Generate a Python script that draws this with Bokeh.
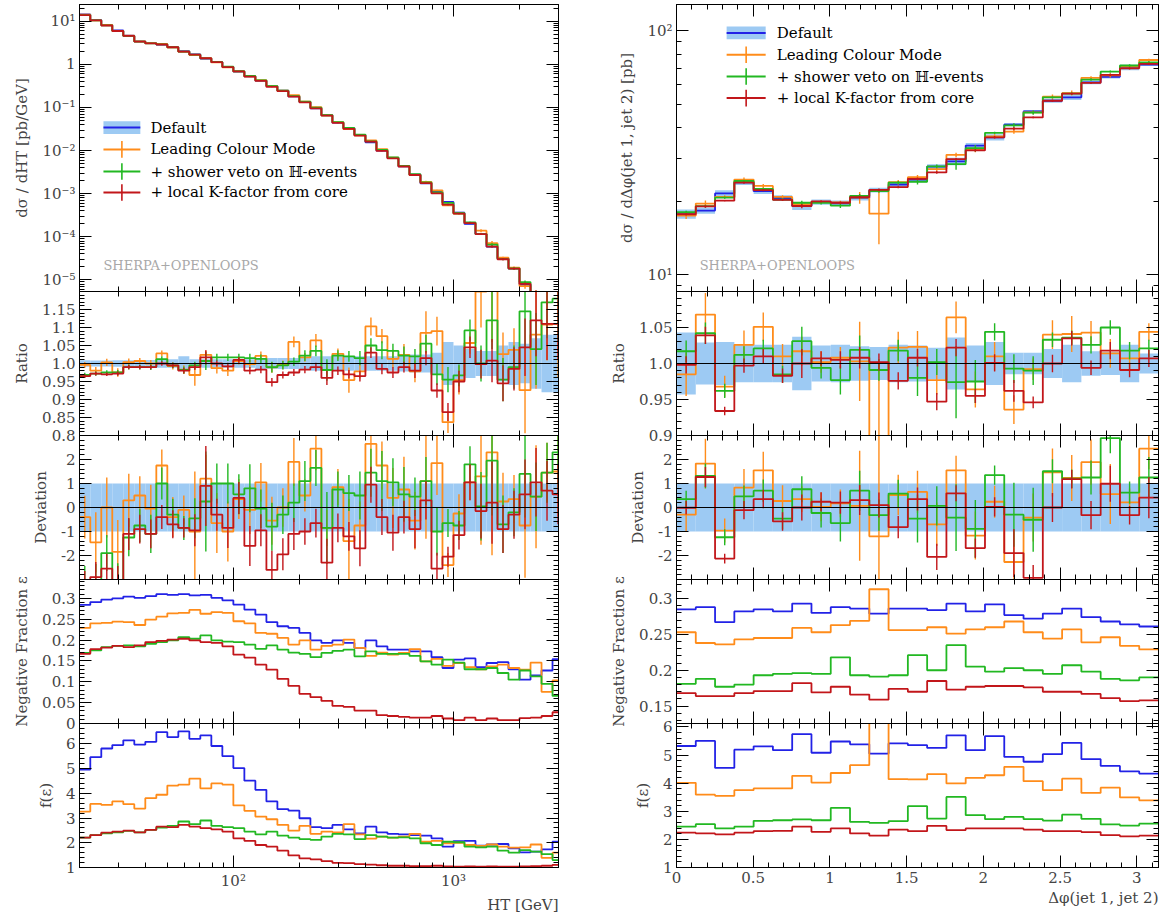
import numpy as np
from bokeh.plotting import figure
from bokeh.models import (Range1d, LinearScale, FixedTicker, CustomJSTickFormatter,
                          LinearAxis, LogAxis, Title, Span, Grid)
from bokeh.layouts import column, row
from bokeh.embed import file_html
from bokeh.resources import INLINE
from bokeh.core.properties import value

# ------------------------------------------------------------------ data
SERIES_LABELS = ["Default", "Leading Colour Mode", "+ shower veto on \u210d-events",
                 "+ local K-factor from core"]
GENERATOR_LABEL = "SHERPA+OPENLOOPS"

# ---- HT observable (44 log-spaced bins)
HT_EDGES = [19.95, 22.39, 25.12, 28.18, 31.62, 35.48, 39.81, 44.67, 50.12, 56.23,
            63.10, 70.79, 79.43, 89.13, 100.0, 112.2, 125.9, 141.3, 158.5, 177.8,
            199.5, 223.9, 251.2, 281.8, 316.2, 354.8, 398.1, 446.7, 501.2, 562.3,
            631.0, 707.9, 794.3, 891.3, 1000.0, 1122.0, 1259.0, 1413.0, 1585.0, 1778.0,
            1995.0, 2239.0, 2512.0, 2818.0, 3162.0]
HT_DEFAULT = [14.3, 10.7, 8.2, 6.1, 4.6, 3.4, 3.09, 2.88, 2.50, 2.01,
              1.69, 1.36, 1.12, 0.871, 0.679, 0.529, 0.420, 0.316, 0.246, 0.182,
              0.134, 0.0958, 0.0671, 0.0446, 0.0329, 0.0231, 0.0156, 0.00998, 0.00675, 0.00432,
              0.00277, 0.00174, 0.00110, 0.000643, 0.000364, 0.000199, 0.000116, 5.9e-5, 3.2e-5, 1.86e-5,
              7.8e-6, 4.7e-6, 2.6e-6, 1.4e-6]
HT_BAND = [0.009, 0.008, 0.008, 0.009, 0.009, 0.010, 0.010, 0.012, 0.012, 0.020,
           0.012, 0.012, 0.012, 0.012, 0.012, 0.012, 0.015, 0.015, 0.015, 0.015,
           0.018, 0.020, 0.020, 0.020, 0.020, 0.020, 0.020, 0.020, 0.020, 0.022,
           0.025, 0.025, 0.030, 0.060, 0.050, 0.040, 0.035, 0.035, 0.050, 0.060,
           0.055, 0.070, 0.080, 0.080]
HT_RATIO_LC = [0.996, 0.980, 1.003, 0.975, 1.004, 1.007, 1.000, 1.028, 0.993, 0.983,
               0.968, 1.024, 0.987, 0.980, 1.007, 0.998, 1.021, 0.989, 0.996, 1.060,
               1.017, 1.064, 0.982, 1.027, 0.954, 0.978, 1.103, 1.076, 1.013, 1.024,
               0.978, 1.085, 1.090, 0.837, 0.954, 1.057, 1.200, 1.210, 1.026, 1.038,
               0.926, 1.080, 1.108, 1.110]
HT_RATIO_SV = [0.968, 0.972, 0.975, 0.975, 0.990, 0.990, 0.990, 1.012, 0.995, 0.982,
               0.995, 1.007, 1.017, 1.017, 1.017, 1.015, 1.013, 0.990, 0.995, 1.005,
               1.022, 1.035, 0.982, 1.022, 1.020, 1.015, 1.050, 1.037, 1.035, 1.022,
               1.020, 1.055, 0.970, 0.955, 0.967, 1.092, 1.000, 1.120, 0.955, 0.990,
               1.145, 1.040, 1.170, 1.180]
HT_RATIO_KF = [0.965, 0.972, 0.970, 0.972, 0.990, 0.990, 0.990, 1.000, 0.995, 0.980,
               0.990, 1.017, 1.000, 0.992, 1.010, 0.980, 0.983, 0.948, 0.968, 0.975,
               0.983, 0.990, 0.960, 0.980, 0.970, 0.965, 1.030, 0.985, 0.975, 0.990,
               0.980, 1.015, 0.925, 0.865, 0.950, 1.045, 0.998, 1.008, 0.945, 0.985,
               1.045, 1.120, 1.110, 1.110]
HT_ERR_LC = [0.008, 0.010, 0.010, 0.012, 0.010, 0.008, 0.010, 0.008, 0.010, 0.012,
             0.030, 0.012, 0.015, 0.015, 0.010, 0.012, 0.012, 0.015, 0.012, 0.015,
             0.012, 0.018, 0.015, 0.015, 0.035, 0.020, 0.025, 0.020, 0.025, 0.030,
             0.030, 0.060, 0.040, 0.030, 0.040, 0.030, 0.100, 0.150, 0.060, 0.060,
             0.120, 0.150, 0.100, 0.150]
HT_ERR_SV = [0.006, 0.006, 0.006, 0.007, 0.007, 0.007, 0.008, 0.008, 0.008, 0.010,
             0.010, 0.025, 0.010, 0.010, 0.010, 0.012, 0.012, 0.015, 0.012, 0.012,
             0.015, 0.015, 0.030, 0.015, 0.015, 0.020, 0.020, 0.025, 0.020, 0.025,
             0.020, 0.025, 0.030, 0.035, 0.030, 0.030, 0.050, 0.080, 0.060, 0.060,
             0.100, 0.100, 0.100, 0.120]
HT_ERR_KF = [0.005, 0.005, 0.005, 0.006, 0.006, 0.006, 0.006, 0.006, 0.007, 0.008,
             0.008, 0.020, 0.008, 0.010, 0.008, 0.010, 0.010, 0.012, 0.010, 0.010,
             0.010, 0.012, 0.020, 0.012, 0.012, 0.015, 0.015, 0.015, 0.015, 0.015,
             0.020, 0.020, 0.020, 0.025, 0.030, 0.030, 0.040, 0.060, 0.050, 0.060,
             0.080, 0.100, 0.100, 0.100]
HT_DEV_LC = [-0.40, -1.45, 0.00, -1.85, 0.30, 0.50, -0.05, 1.75, -0.40, -0.10,
             -1.00, 1.20, -0.65, -1.00, 0.35, -0.10, 1.05, -0.55, 0.00, 1.90,
             0.50, 2.45, -0.85, 0.85, -1.40, -0.75, 2.65, 1.75, 0.40, 0.75,
             -0.55, 1.10, 1.85, -2.40, -0.25, 1.05, 1.30, 2.30, 0.25, 0.35,
             -0.75, 0.45, 1.45, 1.50]
HT_DEV_SV = [-3.10, -3.10, -1.90, -3.10, -1.25, -0.75, -1.10, 1.00, -0.30, -0.85,
             -0.45, 0.25, 1.00, 1.00, 0.55, 0.80, -0.05, -0.80, -0.30, 0.20,
             1.10, 1.65, -0.85, 0.75, 0.60, 0.50, 1.45, 1.10, 1.05, 0.55,
             0.45, 1.10, -1.00, -0.65, -0.75, 1.80, 0.05, 1.95, -0.70, -0.20,
             1.40, 0.45, 1.45, 2.30]
HT_DEV_KF = [-3.20, -2.90, -2.55, -3.10, -1.10, -0.90, -1.10, -0.40, -0.70, -0.85,
             -0.95, 0.90, -0.30, -0.85, 0.40, -1.60, -0.95, -2.60, -1.95, -1.10,
             -1.00, -0.65, -2.30, -0.85, -1.20, -1.70, 0.95, -0.40, -1.05, -0.40,
             -0.90, 0.30, -2.55, -2.05, -1.15, 1.05, -0.15, 0.20, -0.90, -0.30,
             0.55, 1.05, 0.70, 0.55]
HT_NEG_DEF = [0.284, 0.291, 0.297, 0.300, 0.304, 0.301, 0.305, 0.310, 0.308, 0.310,
              0.307, 0.308, 0.301, 0.295, 0.285, 0.273, 0.261, 0.243, 0.233, 0.229,
              0.217, 0.199, 0.193, 0.199, 0.193, 0.181, 0.199, 0.185, 0.177, 0.177,
              0.173, 0.173, 0.159, 0.133, 0.153, 0.156, 0.135, 0.145, 0.147, 0.130,
              0.105, 0.115, 0.127, 0.154]
HT_NEG_LC = [0.229, 0.240, 0.241, 0.244, 0.243, 0.236, 0.249, 0.256, 0.264, 0.265,
             0.272, 0.263, 0.267, 0.265, 0.245, 0.240, 0.217, 0.215, 0.205, 0.189,
             0.199, 0.177, 0.186, 0.189, 0.201, 0.181, 0.162, 0.170, 0.165, 0.169,
             0.178, 0.149, 0.155, 0.138, 0.145, 0.135, 0.130, 0.137, 0.141, 0.133,
             0.129, 0.146, 0.076, 0.103]
HT_NEG_SV = [0.169, 0.175, 0.183, 0.186, 0.187, 0.185, 0.191, 0.195, 0.199, 0.207,
             0.203, 0.211, 0.199, 0.196, 0.195, 0.189, 0.179, 0.187, 0.177, 0.170,
             0.167, 0.159, 0.169, 0.174, 0.177, 0.161, 0.173, 0.167, 0.167, 0.167,
             0.162, 0.149, 0.141, 0.153, 0.146, 0.130, 0.130, 0.133, 0.121, 0.105,
             0.127, 0.113, 0.095, 0.066]
HT_NEG_KF = [0.167, 0.178, 0.182, 0.186, 0.183, 0.187, 0.195, 0.198, 0.201, 0.203,
             0.199, 0.195, 0.193, 0.185, 0.165, 0.158, 0.141, 0.129, 0.107, 0.090,
             0.071, 0.063, 0.054, 0.042, 0.040, 0.031, 0.031, 0.020, 0.018, 0.016,
             0.014, 0.014, 0.018, 0.012, 0.008, 0.014, 0.008, 0.012, 0.008, 0.008,
             0.013, 0.014, 0.018, 0.027]
HT_F_DEF = [4.96, 5.46, 5.81, 5.95, 6.14, 5.97, 6.08, 6.47, 6.27, 6.50,
            6.20, 6.34, 5.91, 5.50, 5.02, 4.51, 4.14, 3.67, 3.36, 3.30,
            2.99, 2.63, 2.59, 2.72, 2.54, 2.38, 2.65, 2.42, 2.36, 2.34,
            2.31, 2.29, 2.18, 1.84, 2.07, 2.08, 1.88, 1.93, 1.95, 1.77,
            1.61, 1.64, 1.73, 2.04]
HT_F_LC = [3.26, 3.57, 3.53, 3.67, 3.56, 3.38, 3.80, 3.94, 4.31, 4.35,
           4.59, 4.20, 4.40, 4.35, 3.51, 3.29, 3.06, 2.95, 2.72, 2.49,
           2.68, 2.36, 2.45, 2.42, 2.75, 2.34, 2.17, 2.25, 2.21, 2.25,
           2.36, 2.04, 2.08, 1.98, 2.00, 1.91, 1.87, 1.93, 1.84, 1.80,
           1.81, 1.93, 1.39, 1.60]
HT_F_SV = [2.21, 2.31, 2.38, 2.42, 2.48, 2.42, 2.52, 2.61, 2.68, 2.86,
           2.75, 2.90, 2.68, 2.63, 2.59, 2.45, 2.34, 2.45, 2.29, 2.21,
           2.15, 2.12, 2.25, 2.36, 2.34, 2.15, 2.31, 2.25, 2.21, 2.22,
           2.18, 1.98, 1.91, 2.04, 2.02, 1.84, 1.81, 1.84, 1.68, 1.60,
           1.70, 1.64, 1.54, 1.30]
HT_F_KF = [2.21, 2.31, 2.41, 2.45, 2.49, 2.42, 2.52, 2.65, 2.63, 2.72,
           2.65, 2.59, 2.54, 2.45, 2.18, 2.08, 1.91, 1.84, 1.68, 1.49,
           1.37, 1.33, 1.26, 1.19, 1.18, 1.14, 1.12, 1.09, 1.07, 1.07,
           1.05, 1.05, 1.07, 1.04, 1.03, 1.04, 1.03, 1.04, 1.03, 1.03,
           1.04, 1.05, 1.07, 1.11]

# ---- delta-phi observable (25 bins in [0, pi])
DPHI_NBINS = 25
DPHI_DEFAULT = [17.7, 18.3, 21.5, 23.9, 21.96, 20.6, 19.1, 19.8, 19.6, 20.6,
                22.2, 23.4, 24.5, 27.7, 29.1, 33.8, 36.5, 41.2, 46.6, 51.6,
                53.3, 61.4, 64.7, 70.7, 72.6]
DPHI_BAND = [0.043, 0.029, 0.030, 0.026, 0.026, 0.026, 0.037, 0.025, 0.026, 0.024,
             0.023, 0.026, 0.025, 0.022, 0.036, 0.025, 0.030, 0.015, 0.015, 0.020,
             0.026, 0.017, 0.016, 0.026, 0.014]
DPHI_RATIO_LC = [0.985, 1.068, 0.968, 1.026, 1.051, 1.010, 1.017, 1.002, 1.008, 1.003,
                 0.800, 1.022, 1.023, 0.977, 1.064, 0.964, 1.010, 0.936, 0.992, 1.040,
                 1.041, 1.043, 1.014, 1.007, 1.044]
DPHI_RATIO_SV = [1.017, 1.042, 0.962, 1.012, 1.021, 0.985, 1.031, 0.994, 0.977, 1.019,
                 0.991, 1.018, 0.980, 1.002, 0.974, 0.975, 1.044, 0.993, 0.990, 1.033,
                 1.036, 1.026, 1.050, 1.018, 1.021]
DPHI_RATIO_KF = [0.998, 1.039, 0.934, 0.997, 1.010, 0.983, 1.000, 1.007, 1.005, 1.008,
                 1.002, 0.976, 1.008, 0.947, 1.022, 0.955, 1.001, 0.962, 0.946, 1.000,
                 1.035, 0.994, 1.018, 0.991, 1.007]
DPHI_ERR_LC = [0.030, 0.030, 0.015, 0.020, 0.020, 0.017, 0.020, 0.015, 0.015, 0.055,
               0.200, 0.022, 0.022, 0.020, 0.022, 0.025, 0.020, 0.020, 0.015, 0.020,
               0.025, 0.016, 0.020, 0.015, 0.012]
DPHI_ERR_SV = [0.015, 0.015, 0.010, 0.012, 0.012, 0.012, 0.020, 0.015, 0.020, 0.020,
               0.015, 0.015, 0.025, 0.018, 0.050, 0.030, 0.012, 0.020, 0.020, 0.010,
               0.010, 0.012, 0.010, 0.012, 0.012]
DPHI_ERR_KF = [0.012, 0.012, 0.006, 0.010, 0.010, 0.010, 0.020, 0.010, 0.012, 0.015,
               0.012, 0.012, 0.012, 0.012, 0.012, 0.010, 0.012, 0.015, 0.008, 0.012,
               0.010, 0.010, 0.012, 0.010, 0.012]
DPHI_DEV_LC = [-0.30, 1.83, -0.96, 0.83, 1.55, 0.27, 0.35, 0.03, 0.17, 0.07,
               -1.20, 0.52, 0.65, -0.70, 1.55, -1.17, 0.24, -2.27, -0.42, 1.46,
               1.23, 1.89, 0.56, 0.21, 2.45]
DPHI_DEV_SV = [0.35, 1.32, -1.24, 0.46, 0.70, -0.46, 0.76, -0.23, -0.65, 0.70,
               -0.32, 0.58, -0.46, 0.07, -0.42, -0.89, 1.35, -0.30, -0.51, 1.51,
               1.20, 1.25, 2.89, 0.62, 1.25]
DPHI_DEV_KF = [-0.01, 1.27, -2.13, -0.11, 0.35, -0.58, 0.00, 0.24, 0.20, 0.31,
               0.10, -0.82, 0.35, -2.06, 0.59, -1.69, 0.03, -1.90, -2.93, 0.00,
               1.18, -0.32, 0.99, -0.32, 0.41]
DPHI_NEG_DEF = [0.285, 0.288, 0.267, 0.282, 0.285, 0.282, 0.293, 0.280, 0.288, 0.286,
                0.279, 0.286, 0.286, 0.284, 0.293, 0.282, 0.292, 0.277, 0.272, 0.279,
                0.286, 0.274, 0.268, 0.264, 0.261]
DPHI_NEG_LC = [0.253, 0.238, 0.236, 0.243, 0.245, 0.245, 0.259, 0.253, 0.263, 0.269,
               0.313, 0.256, 0.256, 0.260, 0.251, 0.257, 0.260, 0.268, 0.253, 0.244,
               0.257, 0.239, 0.246, 0.234, 0.229]
DPHI_NEG_SV = [0.181, 0.188, 0.177, 0.180, 0.193, 0.195, 0.196, 0.195, 0.218, 0.193,
               0.191, 0.193, 0.221, 0.200, 0.235, 0.205, 0.198, 0.203, 0.200, 0.195,
               0.207, 0.198, 0.188, 0.186, 0.190]
DPHI_NEG_KF = [0.168, 0.164, 0.164, 0.168, 0.171, 0.171, 0.182, 0.169, 0.177, 0.166,
               0.159, 0.174, 0.170, 0.185, 0.173, 0.177, 0.178, 0.178, 0.176, 0.170,
               0.170, 0.167, 0.161, 0.157, 0.158]
DPHI_F_DEF = [5.32, 5.50, 4.54, 5.19, 5.31, 5.17, 5.74, 5.08, 5.48, 5.38,
              5.05, 5.41, 5.35, 5.25, 5.70, 5.17, 5.67, 4.93, 4.76, 5.03,
              5.43, 4.85, 4.61, 4.42, 4.34]
DPHI_F_LC = [4.01, 3.59, 3.55, 3.75, 3.81, 3.81, 4.26, 4.02, 4.36, 4.64,
             6.70, 4.14, 4.13, 4.32, 3.99, 4.19, 4.28, 4.58, 4.07, 3.75,
             4.16, 3.65, 3.84, 3.49, 3.39]
DPHI_F_SV = [2.45, 2.54, 2.39, 2.45, 2.66, 2.68, 2.71, 2.68, 3.12, 2.62,
             2.59, 2.65, 3.18, 2.74, 3.51, 2.86, 2.72, 2.80, 2.72, 2.67,
             2.88, 2.73, 2.53, 2.49, 2.56]
DPHI_F_KF = [2.24, 2.21, 2.18, 2.24, 2.29, 2.30, 2.45, 2.27, 2.39, 2.21,
             2.13, 2.35, 2.29, 2.48, 2.33, 2.39, 2.39, 2.39, 2.35, 2.29,
             2.29, 2.26, 2.15, 2.11, 2.13]

# ---- axis ticks
HT_XTICKS = [100, 1000]
DPHI_XTICKS = [0, 0.5, 1, 1.5, 2, 2.5, 3]
HT_MAIN_YTICKS = [1e-5, 1e-4, 1e-3, 1e-2, 1e-1, 1, 10]
DPHI_MAIN_YTICKS = [10, 100]
HT_RATIO_TICKS = [0.8, 0.85, 0.9, 0.95, 1.0, 1.05, 1.1, 1.15]
DPHI_RATIO_TICKS = [0.9, 0.95, 1.0, 1.05]
DEV_TICKS = [-2, -1, 0, 1, 2]
HT_NEG_TICKS = [0, 0.05, 0.1, 0.15, 0.2, 0.25, 0.3]
DPHI_NEG_TICKS = [0.15, 0.2, 0.25, 0.3]
F_TICKS = [1, 2, 3, 4, 5, 6]

# ------------------------------------------------------------------ style
FONT = "DejaVu Serif"
C_DEF, C_LC, C_SV, C_KF = "#2222e6", "#ff8c1a", "#22b822", "#c2161a"
C_BAND = "#9dcaf3"
COLORS = [C_DEF, C_LC, C_SV, C_KF]

LOG_JS = r"""
const e = Math.round(Math.log10(tick));
if (e === 0) { return "1"; }
const m = {"-": "\u207b", "0": "\u2070", "1": "\u00b9", "2": "\u00b2", "3": "\u00b3",
           "4": "\u2074", "5": "\u2075", "6": "\u2076", "7": "\u2077", "8": "\u2078", "9": "\u2079"};
return "10" + String(e).split("").map(c => m[c]).join("");
"""
NUM_JS = "return String(Number(tick.toFixed(3)));"
RATIO_JS = "return tick.toFixed(2).replace(/0$/, '');"
EMPTY_JS = "return '';"


def log_minors(lo, hi):
    return [k * 10.0 ** n for n in range(lo, hi + 1) for k in range(2, 10)]


def lin_minors(a, b, step):
    n = int(round((b - a) / step))
    return [round(a + i * step, 6) for i in range(n + 1)]


def style_axis(ax, labelled, fmt_code, label=None, label_standoff=8):
    ax.major_tick_in = 12
    ax.major_tick_out = 0
    ax.minor_tick_in = 5
    ax.minor_tick_out = 0
    ax.axis_line_color = "black"
    ax.major_tick_line_color = "black"
    ax.minor_tick_line_color = "black"
    if labelled:
        ax.formatter = CustomJSTickFormatter(code=fmt_code)
        ax.major_label_text_font = FONT
        ax.major_label_text_font_size = "15px"
        ax.major_label_standoff = 4
    else:
        ax.formatter = CustomJSTickFormatter(code=EMPTY_JS)
        ax.major_label_text_font_size = "0px"
        ax.major_label_standoff = 0
    if label:
        ax.axis_label = label
        ax.axis_label_text_font = FONT
        ax.axis_label_text_font_size = "15px"
        ax.axis_label_text_font_style = "normal"
        ax.axis_label_standoff = label_standoff


def panel(xr, yr, xlog, ylog, fw, fh, bl, br, bt, bb, mt,
          xticks, xminor, xfmt, show_x, yticks, yminor, yfmt, ylabel):
    p = figure(x_range=xr, y_range=yr,
               x_axis_type="log" if xlog else "linear",
               y_axis_type="log" if ylog else "linear",
               x_axis_location=None, y_axis_location=None,
               frame_width=fw, frame_height=fh,
               min_border_left=bl, min_border_right=br,
               min_border_top=bt, min_border_bottom=bb,
               toolbar_location=None, output_backend="svg",
               border_fill_color=None, background_fill_color="white",
               outline_line_color="black", outline_line_width=1,
               margin=(mt, 0, 0, 0))
    for r in list(p.center):
        if isinstance(r, Grid):
            r.visible = False
            r.grid_line_color = None
    XA = LogAxis if xlog else LinearAxis
    YA = LogAxis if ylog else LinearAxis
    for side in ("below", "above"):
        ax = XA(ticker=FixedTicker(ticks=xticks, minor_ticks=xminor))
        style_axis(ax, show_x and side == "below", xfmt)
        p.add_layout(ax, side)
    for side in ("left", "right"):
        ay = YA(ticker=FixedTicker(ticks=yticks, minor_ticks=yminor))
        style_axis(ay, side == "left", yfmt, ylabel if side == "left" else None)
        p.add_layout(ay, side)
    return p


def steps(p, edges, vals, color, width=1.8):
    p.step(x=list(edges), y=list(vals) + [vals[-1]], mode="after",
           line_color=color, line_width=width)


def errbars(p, centers, lo, hi, color):
    p.segment(x0=list(centers), x1=list(centers), y0=list(lo), y1=list(hi),
              line_color=color, line_width=1.4)


def legend(p, xa, xb, xt, ys, sherpa_xy):
    p.extra_x_ranges = {"leg": Range1d(0, 1)}
    p.extra_y_ranges = {"leg": Range1d(0, 1)}
    p.extra_x_scales = {"leg": LinearScale()}
    p.extra_y_scales = {"leg": LinearScale()}
    kw = dict(x_range_name="leg", y_range_name="leg")
    xm = 0.5 * (xa + xb)
    p.quad(left=[xa], right=[xb], bottom=[ys[0] - 0.022], top=[ys[0] + 0.022],
           fill_color=C_BAND, line_color=None, **kw)
    p.segment(x0=[xa] * 4, x1=[xb] * 4, y0=ys, y1=ys, line_color=COLORS,
              line_width=2, **kw)
    p.segment(x0=[xm] * 3, x1=[xm] * 3, y0=[y - 0.029 for y in ys[1:]],
              y1=[y + 0.029 for y in ys[1:]], line_color=COLORS[1:], line_width=1.6, **kw)
    p.text(x=[xt] * 4, y=ys, text=SERIES_LABELS, text_font=value(FONT),
           text_font_size=value("15px"), text_baseline="middle", text_align="left",
           text_color="black", **kw)
    p.text(x=[sherpa_xy[0]], y=[sherpa_xy[1]], text=[GENERATOR_LABEL],
           text_font=value(FONT), text_font_size=value("13px"), text_baseline="middle",
           text_align="left", text_color="#a8a8a8", **kw)


def build_column(edges, centers, xlog, xr, xticks, xminor, xfmt, xtitle,
                 default, band, ratios, errs, devs, negs, fs,
                 main_yr, main_ticks, main_minor, main_label,
                 ratio_yr, ratio_ticks, neg_yr, neg_ticks, f_yr,
                 fw, bl, br, leg_geom):
    default = np.array(default)
    band = np.array(band)
    left_e = list(edges[:-1])
    right_e = list(edges[1:])

    # main panel
    pm = panel(xr, main_yr, xlog, True, fw, 287, bl, br, 4, 10, 0,
               xticks, xminor, xfmt, False, main_ticks, main_minor, LOG_JS, main_label)
    pm.quad(left=left_e, right=right_e, bottom=list(default * (1 - band)),
            top=list(default * (1 + band)), fill_color=C_BAND, line_color=None)
    steps(pm, edges, default, C_DEF)
    for r, e, c in zip(ratios, errs, COLORS[1:]):
        r = np.array(r); e = np.array(e)
        steps(pm, edges, default * r, c)
        errbars(pm, centers, default * (r - e), default * (r + e), c)
    legend(pm, *leg_geom)

    # ratio panel
    pr = panel(xr, ratio_yr, xlog, False, fw, 144, bl, br, 10, 10, -20,
               xticks, xminor, xfmt, False, ratio_ticks,
               lin_minors(ratio_yr.start, ratio_yr.end, 0.01), RATIO_JS, "Ratio")
    pr.quad(left=left_e, right=right_e, bottom=list(1 - band), top=list(1 + band),
            fill_color=C_BAND, line_color=None)
    pr.add_layout(Span(location=1.0, dimension="width", line_color="black", line_width=1.2))
    for r, e, c in zip(ratios, errs, COLORS[1:]):
        r = np.array(r); e = np.array(e)
        steps(pr, edges, r, c)
        errbars(pr, centers, r - e, r + e, c)

    # deviation panel
    pd_ = panel(xr, Range1d(-3, 3), xlog, False, fw, 144, bl, br, 10, 10, -20,
                xticks, xminor, xfmt, False, DEV_TICKS, lin_minors(-3, 3, 0.2), NUM_JS,
                "Deviation")
    pd_.quad(left=left_e, right=right_e, bottom=[-1] * len(left_e), top=[1] * len(left_e),
             fill_color=C_BAND, line_color=None)
    pd_.add_layout(Span(location=0.0, dimension="width", line_color="black", line_width=1.2))
    for d, e, c in zip(devs, errs, COLORS[1:]):
        d = np.array(d); de = np.array(e) / band
        steps(pd_, edges, d, c)
        errbars(pd_, centers, d - de, d + de, c)

    # negative fraction panel
    pn = panel(xr, neg_yr, xlog, False, fw, 144, bl, br, 10, 10, -20,
               xticks, xminor, xfmt, False, neg_ticks,
               lin_minors(round(neg_yr.start, 2), round(neg_yr.end, 2), 0.01), NUM_JS,
               "Negative Fraction \u03b5")
    for v, c in zip(negs, COLORS):
        steps(pn, edges, v, c)

    # f(eps) panel
    pf = panel(xr, f_yr, xlog, False, fw, 144, bl, br, 10, 46, -20,
               xticks, xminor, xfmt, True, F_TICKS, lin_minors(1, 7, 0.2), NUM_JS,
               "f(\u03b5)")
    for v, c in zip(fs, COLORS):
        steps(pf, edges, v, c)
    pf.add_layout(Title(text=xtitle, align="right", text_font=FONT, text_font_size="15px",
                        text_font_style="normal", standoff=2), "below")
    return column(pm, pr, pd_, pn, pf, spacing=0)


ht_edges = np.array(HT_EDGES)
ht_centers = np.sqrt(ht_edges[:-1] * ht_edges[1:])
dphi_edges = np.linspace(0, np.pi, DPHI_NBINS + 1)
dphi_centers = 0.5 * (dphi_edges[:-1] + dphi_edges[1:])

left = build_column(
    ht_edges, ht_centers, True, Range1d(20, 3000), HT_XTICKS, log_minors(1, 3), LOG_JS,
    "HT [GeV]", HT_DEFAULT, HT_BAND,
    [HT_RATIO_LC, HT_RATIO_SV, HT_RATIO_KF], [HT_ERR_LC, HT_ERR_SV, HT_ERR_KF],
    [HT_DEV_LC, HT_DEV_SV, HT_DEV_KF],
    [HT_NEG_DEF, HT_NEG_LC, HT_NEG_SV, HT_NEG_KF],
    [HT_F_DEF, HT_F_LC, HT_F_SV, HT_F_KF],
    Range1d(5.4e-6, 24.4), HT_MAIN_YTICKS, log_minors(-6, 1), "d\u03c3 / dHT [pb/GeV]",
    Range1d(0.8, 1.2), HT_RATIO_TICKS, Range1d(0, 0.345), HT_NEG_TICKS, Range1d(1, 6.82),
    479, 79, 20,
    (0.050, 0.127, 0.148, [0.571, 0.495, 0.418, 0.345], (0.050, 0.09)))

right = build_column(
    dphi_edges, dphi_centers, False, Range1d(0, np.pi), DPHI_XTICKS,
    lin_minors(0, 3.1, 0.1), NUM_JS, "\u0394\u03c6(jet 1, jet 2)",
    DPHI_DEFAULT, DPHI_BAND,
    [DPHI_RATIO_LC, DPHI_RATIO_SV, DPHI_RATIO_KF], [DPHI_ERR_LC, DPHI_ERR_SV, DPHI_ERR_KF],
    [DPHI_DEV_LC, DPHI_DEV_SV, DPHI_DEV_KF],
    [DPHI_NEG_DEF, DPHI_NEG_LC, DPHI_NEG_SV, DPHI_NEG_KF],
    [DPHI_F_DEF, DPHI_F_LC, DPHI_F_SV, DPHI_F_KF],
    Range1d(8.52, 128), DPHI_MAIN_YTICKS, log_minors(0, 2),
    "d\u03c3 / d\u0394\u03c6(jet 1, jet 2) [pb]",
    Range1d(0.9, 1.1), DPHI_RATIO_TICKS, Range1d(0.1257, 0.3266), DPHI_NEG_TICKS,
    Range1d(1, 6.12),
    482, 98, 3,
    (0.104, 0.185, 0.208, [0.901, 0.825, 0.749, 0.674], (0.048, 0.09)))

layout = row(left, right, spacing=0)
open("out.html", "w").write(file_html(layout, INLINE))
